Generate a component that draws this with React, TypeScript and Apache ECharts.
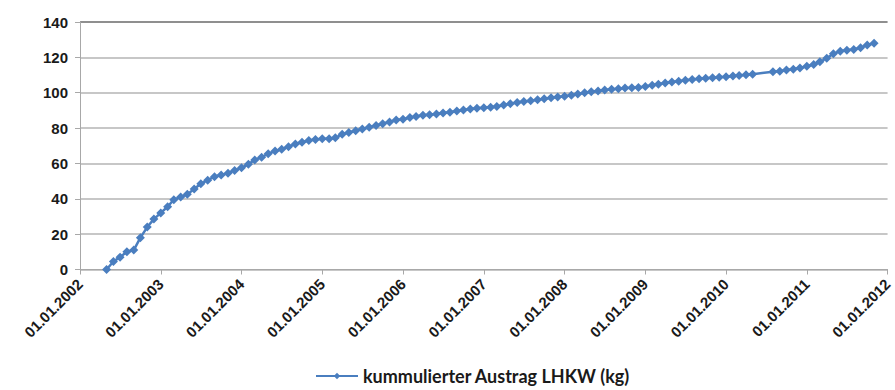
import React, { useEffect, useRef } from "react";
import * as echarts from "echarts";

const dates: string[] = [
  "2002-05-01","2002-06-01","2002-07-01","2002-08-01","2002-09-01","2002-10-01","2002-11-01","2002-12-01",
  "2003-01-01","2003-02-01","2003-03-01","2003-04-01","2003-05-01","2003-06-01","2003-07-01","2003-08-01","2003-09-01","2003-10-01","2003-11-01","2003-12-01",
  "2004-01-01","2004-02-01","2004-03-01","2004-04-01","2004-05-01","2004-06-01","2004-07-01","2004-08-01","2004-09-01","2004-10-01","2004-11-01","2004-12-01",
  "2005-01-01","2005-02-01","2005-03-01","2005-04-01","2005-05-01","2005-06-01","2005-07-01","2005-08-01","2005-09-01","2005-10-01","2005-11-01","2005-12-01",
  "2006-01-01","2006-02-01","2006-03-01","2006-04-01","2006-05-01","2006-06-01","2006-07-01","2006-08-01","2006-09-01","2006-10-01","2006-11-01","2006-12-01",
  "2007-01-01","2007-02-01","2007-03-01","2007-04-01","2007-05-01","2007-06-01","2007-07-01","2007-08-01","2007-09-01","2007-10-01","2007-11-01","2007-12-01",
  "2008-01-01","2008-02-01","2008-03-01","2008-04-01","2008-05-01","2008-06-01","2008-07-01","2008-08-01","2008-09-01","2008-10-01","2008-11-01","2008-12-01",
  "2009-01-01","2009-02-01","2009-03-01","2009-04-01","2009-05-01","2009-06-01","2009-07-01","2009-08-01","2009-09-01","2009-10-01","2009-11-01","2009-12-01",
  "2010-01-01","2010-02-01","2010-03-01","2010-04-01","2010-05-01","2010-08-01","2010-09-01","2010-10-01","2010-11-01","2010-12-01",
  "2011-01-01","2011-02-01","2011-03-01","2011-04-01","2011-05-01","2011-06-01","2011-07-01","2011-08-01","2011-09-01","2011-10-01","2011-11-01"
];

const values: number[] = [
  0, 4.5, 7, 10, 11, 18, 24, 28.5,
  32, 35.5, 39.5, 41, 42.5, 45.5, 48.5, 50.5, 52.5, 53.5, 54.5, 56,
  57.5, 59.5, 62, 63.5, 65.5, 67, 68, 69.5, 71, 72, 73, 73.5,
  74, 74, 74.5, 76.5, 77.5, 78.5, 79.5, 80.5, 81.5, 82.5, 83.5, 84.5,
  85, 86, 86.5, 87.2, 87.6, 88, 88.5, 89, 89.6, 90.2, 90.8, 91.2,
  91.5, 91.8, 92.2, 93, 93.8, 94.5, 95, 95.5, 96, 96.6, 97.2, 97.6,
  98, 98.6, 99.3, 100, 100.5, 101, 101.5, 102, 102.3, 102.6, 102.8, 103,
  103.5, 104.2, 104.8, 105.5, 106, 106.5, 107, 107.5, 107.9, 108.2, 108.5, 108.8,
  109, 109.4, 109.8, 110.2, 110.5, 111.8, 112.2, 112.8, 113.3, 114,
  115, 116, 117.5, 119.5, 122, 123.5, 124, 124.5, 125.5, 127, 128
];

const seriesName = "kummulierter Austrag LHKW (kg)";
const yMin = 0;
const yMax = 140;
const yStep = 20;
const xStartYear = 2002;
const xEndYear = 2012;

function toYear(d: string): number {
  const [y, m, day] = d.split("-").map(Number);
  const start = Date.UTC(y, 0, 1);
  const end = Date.UTC(y + 1, 0, 1);
  return y + (Date.UTC(y, m - 1, day) - start) / (end - start);
}

export default function App() {
  const ref = useRef<HTMLDivElement>(null);
  useEffect(() => {
    document.body.style.margin = "0";
    if (!ref.current) return;
    const chart = echarts.init(ref.current, null, { renderer: "svg" });
    const data = dates.map((d, i) => [toYear(d), values[i]]);
    const splitColors = ["#b5b5b5", "#b5b5b5", "#b5b5b5", "#b5b5b5", "#b5b5b5", "#b5b5b5", "#b5b5b5", "#6a6a6a"];
    chart.setOption({
      animation: false,
      backgroundColor: "#ffffff",
      grid: { left: 80, top: 22, width: 816, height: 247.5, containLabel: false },
      xAxis: {
        type: "value",
        min: xStartYear,
        max: xEndYear,
        interval: 1,
        axisLine: { show: true, lineStyle: { color: "#a8a8a8", width: 1 } },
        axisTick: { show: true, length: 5, lineStyle: { color: "#a8a8a8" } },
        splitLine: { show: false },
        axisLabel: {
          rotate: 45,
          margin: 12,
          formatter: (v: number) => "01.01." + Math.round(v),
          fontFamily: "Liberation Sans, Arial, sans-serif",
          fontWeight: "bold",
          fontSize: 15,
          color: "#1a1a1a",
        },
      },
      yAxis: {
        type: "value",
        min: yMin,
        max: yMax,
        interval: yStep,
        axisLine: { show: true, lineStyle: { color: "#a8a8a8", width: 1 } },
        axisTick: { show: true, length: 5, lineStyle: { color: "#a8a8a8" } },
        splitLine: { show: true, lineStyle: { color: splitColors, width: 1.5 } },
        axisLabel: {
          margin: 12,
          fontFamily: "Liberation Sans, Arial, sans-serif",
          fontWeight: "bold",
          fontSize: 15,
          color: "#1a1a1a",
        },
      },
      legend: {
        bottom: 0,
        left: 310,
        itemWidth: 42,
        itemHeight: 8,
        itemGap: 4,
        textStyle: {
          fontFamily: "Lato, 'Open Sans', sans-serif",
          fontWeight: "bold",
          fontSize: 18,
          color: "#1a1a1a",
        },
        data: [seriesName],
      },
      series: [
        {
          name: seriesName,
          type: "line",
          data,
          color: "#4a7ebf",
          lineStyle: { width: 2.5, color: "#4a7ebf" },
          symbol: "diamond",
          symbolSize: 9,
          itemStyle: { color: "#4a7ebf" },
        },
      ],
    });
    return () => chart.dispose();
  }, []);
  return <div ref={ref} style={{ position: "absolute", left: 0, top: 0, width: 895, height: 390 }} />;
}
